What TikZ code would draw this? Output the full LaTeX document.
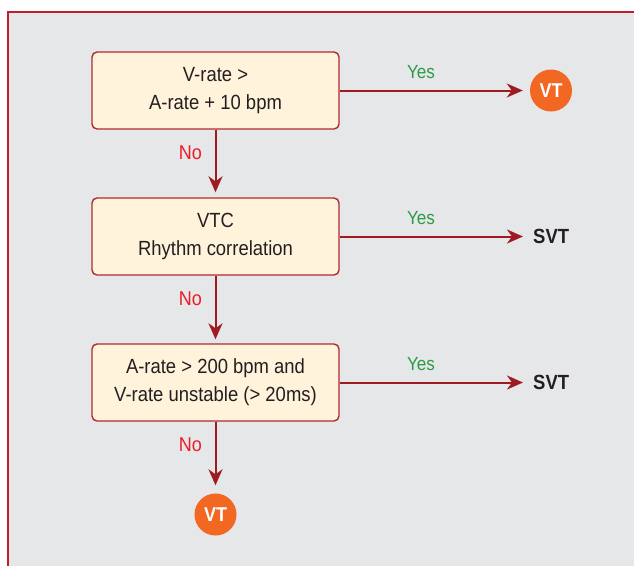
\documentclass[tikz,border=0pt]{standalone}
\usepackage{fontspec}
\setmainfont{Liberation Sans}[FakeStretch=0.9]
\usetikzlibrary{arrows.meta}
\definecolor{panelgray}{HTML}{E6E7E9}
\definecolor{framered}{HTML}{BE1E2D}
\definecolor{boxfill}{HTML}{FFF3DC}
\definecolor{boxedge}{HTML}{B02A30}
\definecolor{arrowred}{HTML}{9E1B22}
\definecolor{vtorange}{HTML}{F26722}
\definecolor{yesgreen}{HTML}{2E9A47}
\definecolor{nored}{HTML}{ED1C24}
\definecolor{inkblack}{HTML}{231F20}
\tikzset{
  decision/.style={draw=boxedge, line width=1.4pt, fill=boxfill, rounded corners=5pt,
    minimum width=247pt, minimum height=77pt, align=center, inner sep=0pt,
    font=\fontsize{20.5}{28}\selectfont, text=inkblack},
  flow/.style={draw=arrowred, line width=2pt,
    -{Stealth[length=16pt, width=14pt, inset=5pt]}},
  vtdot/.style={circle, fill=vtorange, minimum size=42pt, inner sep=0pt,
    text=white, font=\fontsize{20}{22}\selectfont\bfseries},
  outcome/.style={inner sep=3pt, font=\fontsize{20.5}{22}\selectfont\bfseries, text=inkblack},
  yeslbl/.style={anchor=base, inner sep=0pt, text=yesgreen, font=\fontsize{19}{22}\selectfont},
  nolbl/.style={anchor=base, inner sep=0pt, text=nored, font=\fontsize{20}{22}\selectfont}
}
\begin{document}
\begin{tikzpicture}[x=1pt, y=-1pt]
  \useasboundingbox (0,0) rectangle (634,566);
  % panel background and frame
  \fill[panelgray] (8,12) rectangle (634,566);
  \draw[framered, line width=2pt] (8,566) -- (8,12) -- (634,12);

  % decision boxes
  \node[decision] (b1) at (215.5,90.5) {V-rate >\\A-rate + 10 bpm};
  \node[decision] (b2) at (215.5,236.5) {VTC\\Rhythm correlation};
  \node[decision] (b3) at (215.5,382.5) {A-rate > 200 bpm and\\V-rate unstable (> 20ms)};

  % outcomes
  \node[vtdot] (vt1) at (551,90.5) {VT};
  \node[outcome, anchor=west] (svt1) at (530,236.5) {SVT};
  \node[outcome, anchor=west] (svt2) at (530,382.5) {SVT};
  \node[vtdot] (vt2) at (215.5,514.5) {VT};

  % yes branches
  \draw[flow, shorten >=7pt] (b1.east) -- (vt1);
  \draw[flow, shorten >=7pt] (b2.east) -- (svt1.west);
  \draw[flow, shorten >=7pt] (b3.east) -- (svt2.west);

  % no branches
  \draw[flow, shorten >=5pt] (b1) -- (b2);
  \draw[flow, shorten >=4pt] (b2) -- (b3);
  \draw[flow, shorten >=8pt] (b3) -- (vt2);

  % branch labels
  \node[yeslbl] (y1) at (421,78) {Yes};
  \node[yeslbl] (y2) at (421,224) {Yes};
  \node[yeslbl] (y3) at (421,370) {Yes};
  \node[nolbl] (n1) at (190.5,159) {No};
  \node[nolbl] (n2) at (190.5,305) {No};
  \node[nolbl] (n3) at (190.5,451) {No};
\end{tikzpicture}
\end{document}
